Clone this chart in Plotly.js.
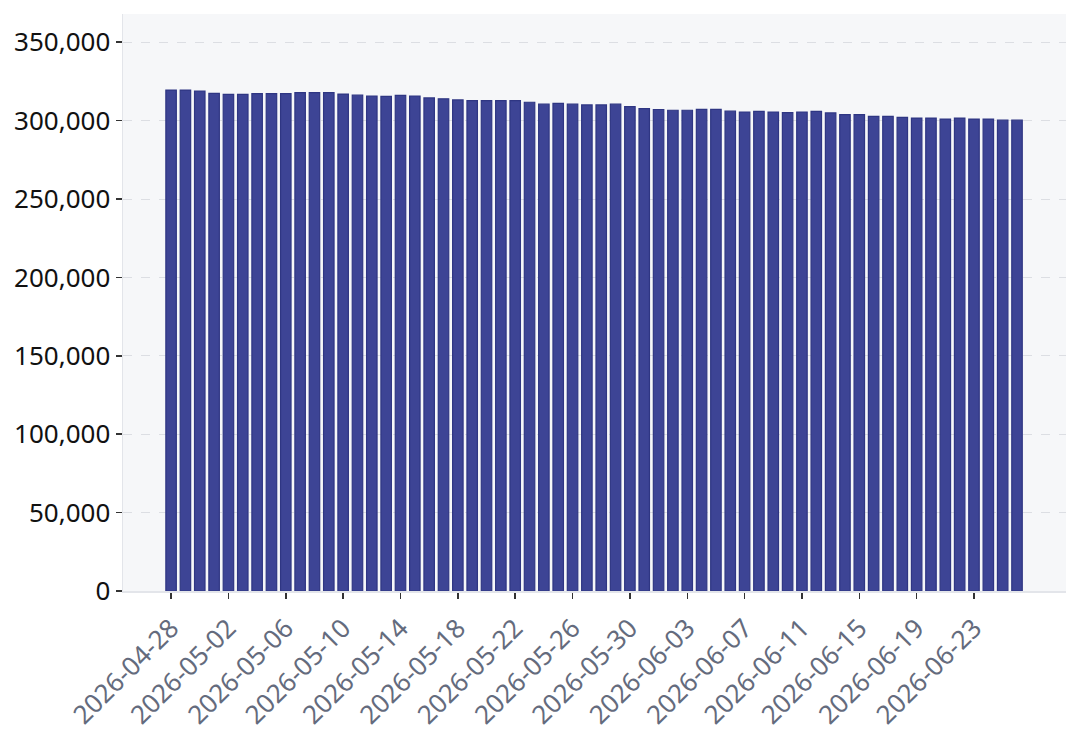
<!DOCTYPE html>
<html>
<head>
<meta charset="utf-8">
<script src="https://cdn.plot.ly/plotly-3.0.1.min.js"></script>
<style>
  html, body { margin: 0; padding: 0; background: #ffffff; }
  #chart { width: 1080px; height: 735px; }
</style>
</head>
<body>
<div id="chart"></div>
<script>
const dates = [
  '2026-04-28', '2026-04-29', '2026-04-30', '2026-05-01', '2026-05-02', '2026-05-03',
  '2026-05-04', '2026-05-05', '2026-05-06', '2026-05-07', '2026-05-08', '2026-05-09',
  '2026-05-10', '2026-05-11', '2026-05-12', '2026-05-13', '2026-05-14', '2026-05-15',
  '2026-05-16', '2026-05-17', '2026-05-18', '2026-05-19', '2026-05-20', '2026-05-21',
  '2026-05-22', '2026-05-23', '2026-05-24', '2026-05-25', '2026-05-26', '2026-05-27',
  '2026-05-28', '2026-05-29', '2026-05-30', '2026-05-31', '2026-06-01', '2026-06-02',
  '2026-06-03', '2026-06-04', '2026-06-05', '2026-06-06', '2026-06-07', '2026-06-08',
  '2026-06-09', '2026-06-10', '2026-06-11', '2026-06-12', '2026-06-13', '2026-06-14',
  '2026-06-15', '2026-06-16', '2026-06-17', '2026-06-18', '2026-06-19', '2026-06-20',
  '2026-06-21', '2026-06-22', '2026-06-23', '2026-06-24', '2026-06-25', '2026-06-26'
];

const values = [
  319500, 319500, 318900, 317400, 316700, 316700,
  317200, 317200, 317200, 317800, 317800, 317800,
  316900, 316200, 315700, 315500, 316100, 315700,
  314500, 313900, 313200, 312800, 312800, 312800,
  312800, 311700, 310500, 311000, 310500, 310000,
  310000, 310500, 308900, 307700, 307100, 306600,
  306600, 307200, 307200, 306000, 305500, 305900,
  305500, 305100, 305500, 305900, 304900, 303800,
  303800, 302700, 302700, 302100, 301600, 301600,
  301000, 301600, 301000, 301000, 300300, 300300
];

// label every 4th day, starting from the first one
const tickDates = dates.filter((d, i) => i % 4 === 0);

const data = [{
  type: 'bar',
  x: dates,
  y: values,
  marker: {
    color: '#3d4495',
    line: {color: '#2f3683', width: 1.2}
  },
  hoverinfo: 'x+y'
}];

const layout = {
  width: 1080,
  height: 735,
  paper_bgcolor: '#ffffff',
  plot_bgcolor: '#f6f7f9',
  bargap: 0.27,
  showlegend: false,
  font: {family: 'Noto Sans', size: 26, color: '#111111'},
  margin: {l: 123, r: 14, t: 14, b: 144},
  xaxis: {
    type: 'date',
    range: ['2026-04-24 15:30', '2026-06-29 10:00'],
    tickvals: tickDates,
    ticktext: tickDates,
    tickangle: -45,
    tickfont: {family: 'Noto Sans', size: 26, color: '#646b7d'},
    ticklabelstandoff: 4,
    ticks: 'outside',
    ticklen: 6,
    tickwidth: 1.5,
    tickcolor: '#333333',
    showgrid: false,
    showline: true,
    linecolor: '#e3e5ea',
    linewidth: 1.5,
    zeroline: false
  },
  yaxis: {
    range: [0, 368000],
    dtick: 50000,
    tickformat: ',d',
    tickfont: {family: 'Noto Sans', size: 26, color: '#111111'},
    ticks: 'outside',
    ticklen: 6,
    tickwidth: 1.5,
    tickcolor: '#333333',
    showgrid: true,
    gridcolor: '#dcdee3',
    griddash: 'dash',
    gridwidth: 1,
    showline: true,
    linecolor: '#e3e5ea',
    linewidth: 1.5,
    zeroline: false
  }
};

Plotly.newPlot('chart', data, layout, {displayModeBar: false, staticPlot: true});
</script>
</body>
</html>
